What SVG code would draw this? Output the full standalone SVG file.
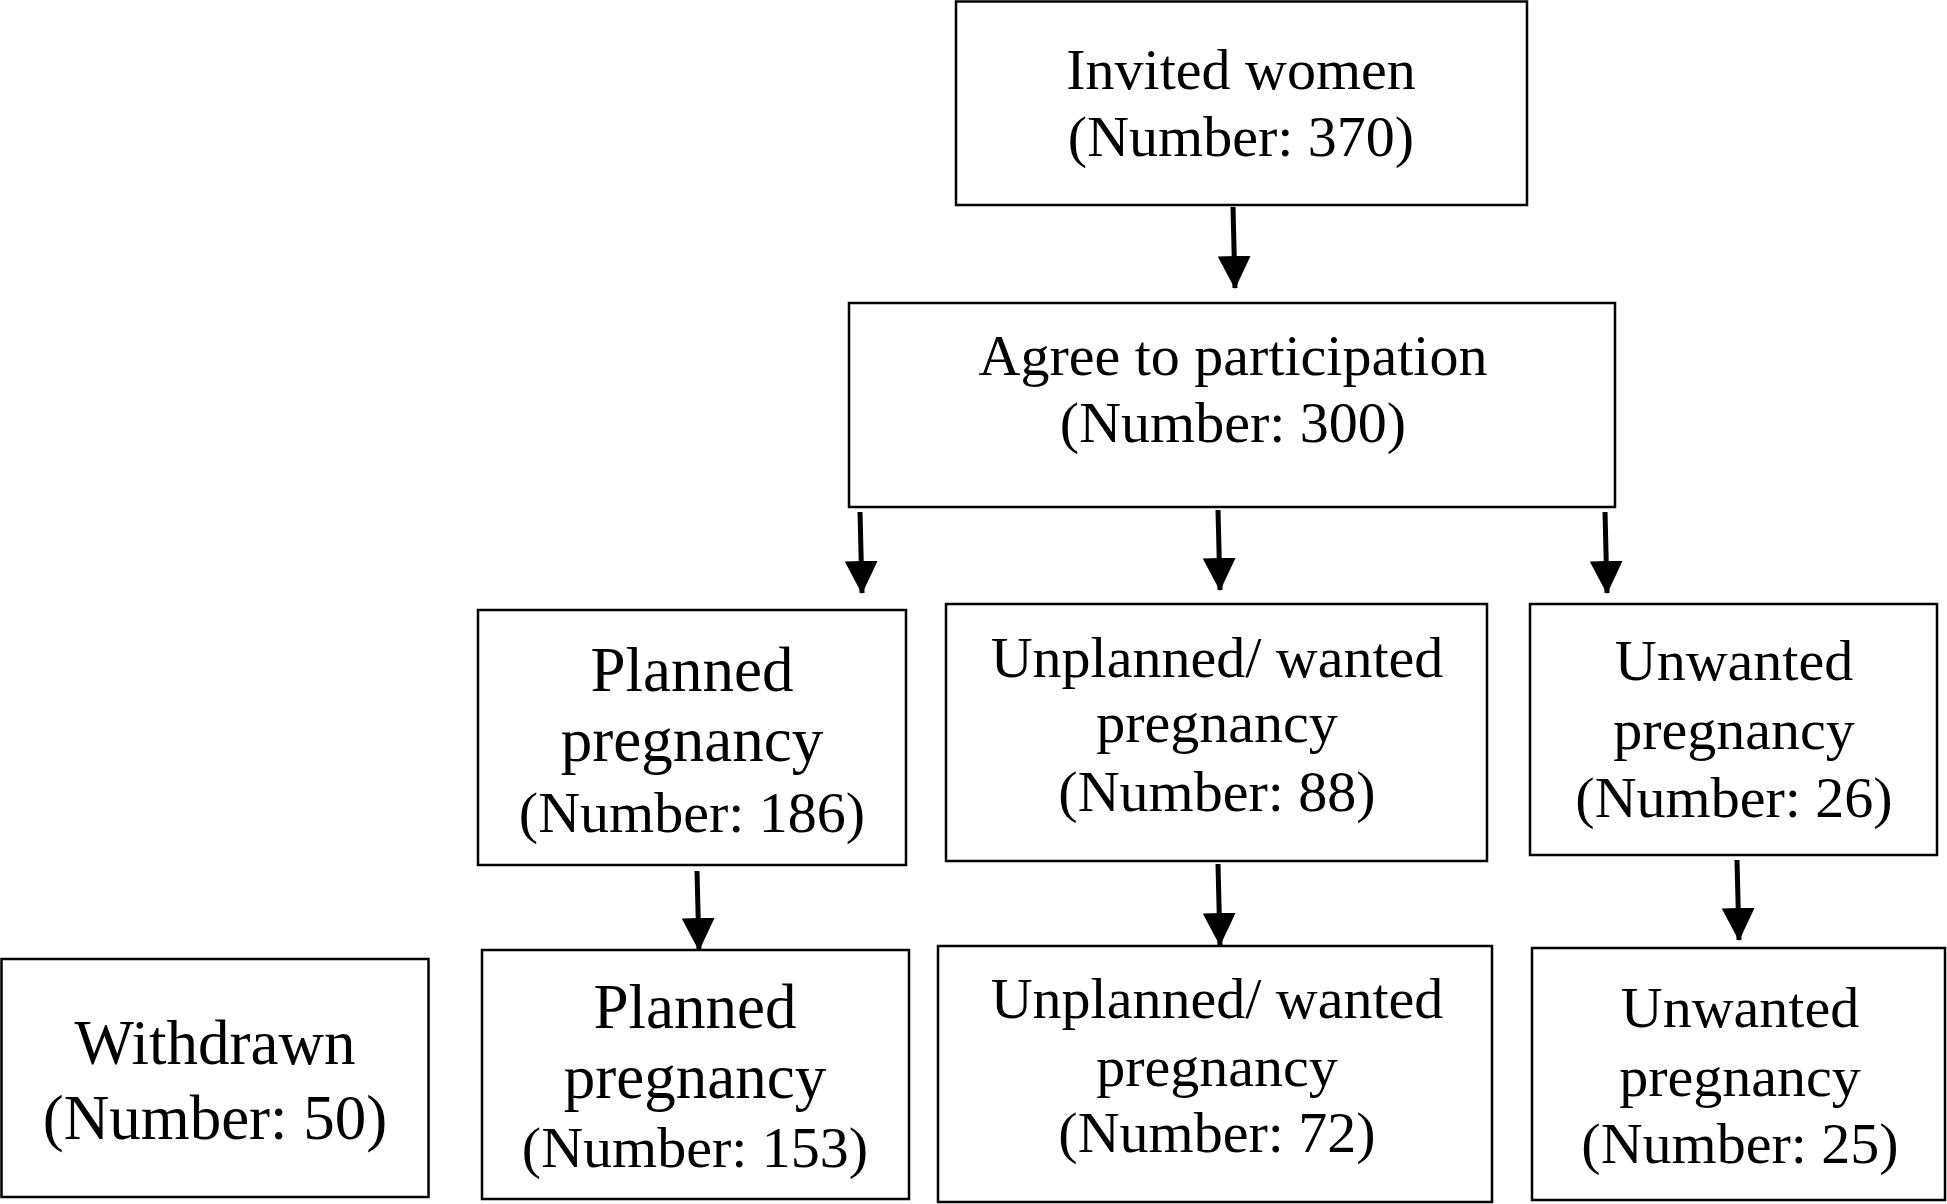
<svg xmlns="http://www.w3.org/2000/svg" width="1947" height="1204" viewBox="0 0 1947 1204">
<style>
.box{fill:#fff;stroke:#000;stroke-width:2.5}
.t{font-family:"Liberation Serif","Times New Roman",serif;font-size:58px;fill:#000;text-anchor:middle}
.big{font-size:63px}
.edge{stroke:#000;stroke-width:5;fill:none}
</style>
<defs>
<marker id="ah" viewBox="0 0 33 33" refX="32" refY="16.5" markerWidth="33" markerHeight="33" markerUnits="userSpaceOnUse" orient="auto">
<path d="M0,0 L33,16.5 L0,33 z" fill="#000"/>
</marker>
</defs>
<rect width="1947" height="1204" fill="#fff"/>
<g id="connectors">
<line class="edge" x1="1233" y1="207" x2="1235" y2="288" marker-end="url(#ah)"/>
<line class="edge" x1="860" y1="512" x2="862" y2="593" marker-end="url(#ah)"/>
<line class="edge" x1="1218" y1="510" x2="1220" y2="590" marker-end="url(#ah)"/>
<line class="edge" x1="1605" y1="512" x2="1607" y2="593" marker-end="url(#ah)"/>
<line class="edge" x1="697" y1="871" x2="699" y2="950" marker-end="url(#ah)"/>
<line class="edge" x1="1218" y1="864" x2="1220" y2="945" marker-end="url(#ah)"/>
<line class="edge" x1="1737" y1="860" x2="1739" y2="940" marker-end="url(#ah)"/>
</g>
<g id="invited">
<rect class="box" x="956" y="1.5" width="571" height="203.5"/>
<text class="t" x="1241" y="89">Invited women</text>
<text class="t" x="1241" y="156">(Number: 370)</text>
</g>
<g id="agree">
<rect class="box" x="849" y="303" width="766" height="204"/>
<text class="t" x="1233" y="375">Agree to participation</text>
<text class="t" x="1233" y="442">(Number: 300)</text>
</g>
<g id="planned1">
<rect class="box" x="478" y="610" width="428" height="255"/>
<text class="t big" x="692" y="691">Planned</text>
<text class="t big" x="692" y="761">pregnancy</text>
<text class="t" x="692" y="832">(Number: 186)</text>
</g>
<g id="unplanned1">
<rect class="box" x="946" y="604" width="541" height="257"/>
<text class="t" x="1217" y="677">Unplanned/ wanted</text>
<text class="t" x="1217" y="742">pregnancy</text>
<text class="t" x="1217" y="811">(Number: 88)</text>
</g>
<g id="unwanted1">
<rect class="box" x="1530" y="604" width="407" height="251"/>
<text class="t" x="1734" y="680">Unwanted</text>
<text class="t" x="1734" y="749">pregnancy</text>
<text class="t" x="1734" y="817">(Number: 26)</text>
</g>
<g id="withdrawn">
<rect class="box" x="1.5" y="959" width="427" height="238"/>
<text class="t big" x="215" y="1064">Withdrawn</text>
<text class="t big" x="215" y="1139">(Number: 50)</text>
</g>
<g id="planned2">
<rect class="box" x="482" y="950" width="427" height="249"/>
<text class="t big" x="695" y="1028">Planned</text>
<text class="t big" x="695" y="1098">pregnancy</text>
<text class="t" x="695" y="1167">(Number: 153)</text>
</g>
<g id="unplanned2">
<rect class="box" x="938" y="946" width="554" height="256"/>
<text class="t" x="1217" y="1018">Unplanned/ wanted</text>
<text class="t" x="1217" y="1086">pregnancy</text>
<text class="t" x="1217" y="1152">(Number: 72)</text>
</g>
<g id="unwanted2">
<rect class="box" x="1532" y="948" width="413" height="252"/>
<text class="t" x="1740" y="1027">Unwanted</text>
<text class="t" x="1740" y="1096">pregnancy</text>
<text class="t" x="1740" y="1163">(Number: 25)</text>
</g>
</svg>
